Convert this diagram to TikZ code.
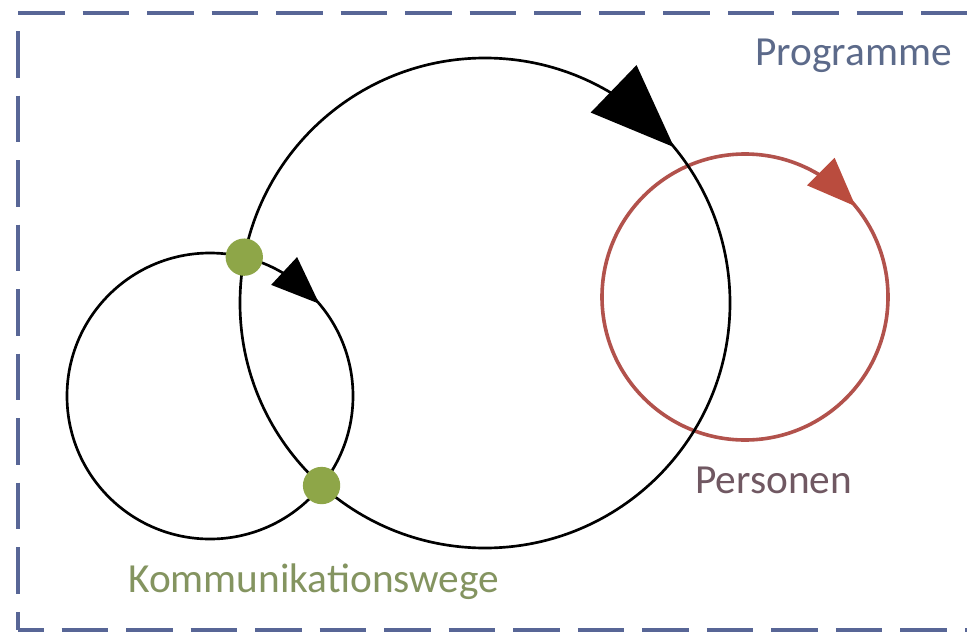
\documentclass[tikz,border=0pt]{standalone}
\usepackage{fontspec}
\setmainfont{Carlito}
\usetikzlibrary{calc,intersections}
\definecolor{frameblue}{RGB}{88,102,150}
\definecolor{progtext}{RGB}{92,106,138}
\definecolor{perstext}{RGB}{112,88,98}
\definecolor{kommtext}{RGB}{132,148,96}
\definecolor{redline}{RGB}{178,82,76}
\definecolor{redhead}{RGB}{186,76,62}
\definecolor{dotgreen}{RGB}{142,166,72}
\begin{document}
\begin{tikzpicture}[x=0.75pt,y=-0.75pt,
  framedash/.style={draw=frameblue,line width=3.2pt,dash pattern=on 34.9pt off 13.5pt},
  blackring/.style={draw=black,line width=2pt},
  redring/.style={draw=redline,line width=2.7pt},
  gdot/.style={circle,fill=dotgreen,inner sep=0pt,minimum size=28pt},
  lbl/.style={inner sep=0pt,anchor=base west,font=\fontsize{31}{37}\selectfont}]
\useasboundingbox (0,0) rectangle (967,639);
\fill[white] (0,0) rectangle (967,639);
% frame
\coordinate (ftl) at (18,13);
\coordinate (ftr) at (990,13);
\coordinate (fbl) at (18,630);
\coordinate (fbr) at (990,630);
\draw[framedash] (ftl) -- (ftr);
\draw[framedash,dash phase=34.9pt] (ftl) -- (fbl);
\draw[framedash,dash phase=15.75pt] (fbl) -- (fbr);
% centres
\coordinate (sc) at (210,396);
\coordinate (bc) at (485,303);
\coordinate (rc) at (745,297);
% red circle
\draw[redring] (rc) circle[radius=143];
\coordinate (rt) at ($(rc)+(-39.4:143)$);
\coordinate (rm) at ($(rt)+(225:49)$);
\fill[redhead] (rt) -- ($(rm)+(-45:19.5)$) -- ($(rm)+(135:19.5)$) -- cycle;
% black circles
\draw[blackring,name path=small] (sc) circle[radius=143];
\draw[blackring,name path=big] (bc) circle[radius=245];
\coordinate (bt) at ($(bc)+(-39.5:245)$);
\coordinate (bm) at ($(bt)+(224:84)$);
\fill[black] (bt) -- ($(bm)+(-46:33)$) -- ($(bm)+(134:33)$) -- cycle;
\coordinate (st) at ($(sc)+(-40.2:143)$);
\coordinate (sm) at ($(st)+(223:48)$);
\fill[black] (st) -- ($(sm)+(-47:19)$) -- ($(sm)+(133:19)$) -- cycle;
% green dots at the crossings
\path[name intersections={of=small and big,by={i1,i2}}];
\node[gdot] (d1) at (i1) {};
\node[gdot] (d2) at (i2) {};
% labels
\node[lbl,text=progtext] (prog) at (755,65) {Programme};
\node[lbl,text=perstext] (pers) at (695,493) {Personen};
\node[lbl,text=kommtext] (komm) at (128,592) {Kommunikationswege};
\end{tikzpicture}
\end{document}
